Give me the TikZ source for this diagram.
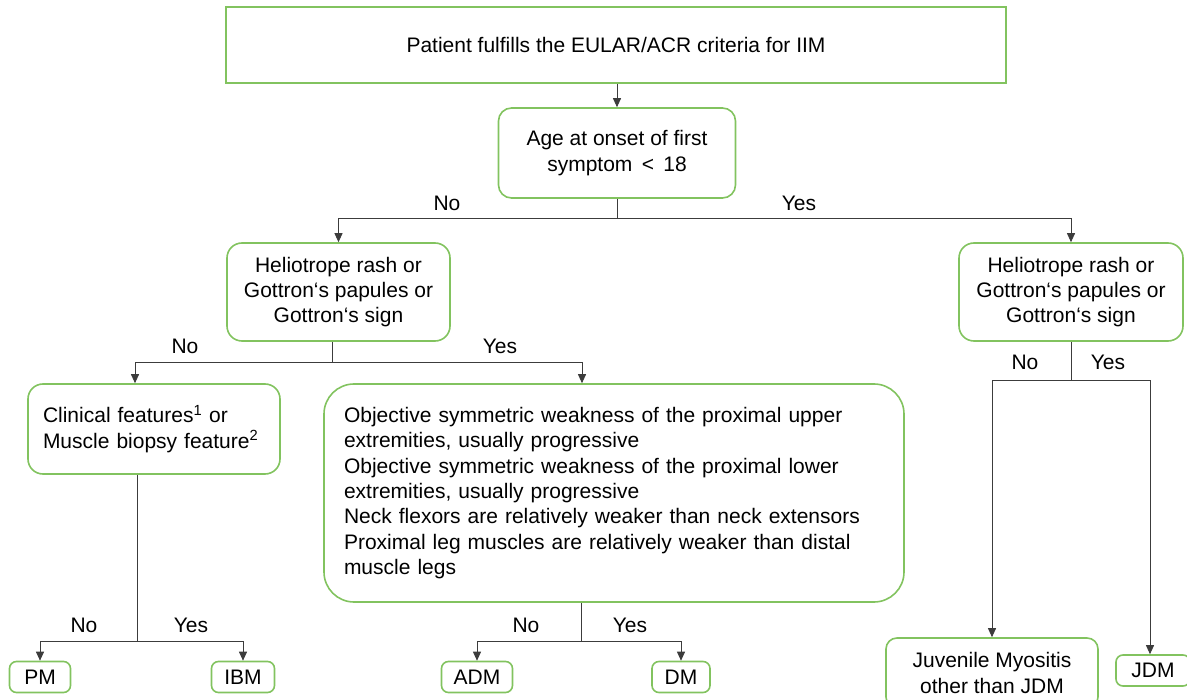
\documentclass[tikz,border=0pt]{standalone}
\usepackage{fontspec}
\setmainfont{Liberation Sans}
\usetikzlibrary{arrows.meta}
\definecolor{boxgreen}{RGB}{130,195,95}
\definecolor{linegray}{RGB}{60,60,60}
\tikzset{
  every node/.style={font=\fontsize{21}{25.3}\selectfont},
  gbox/.style={draw=boxgreen, line width=1.6pt, rounded corners=#1, align=center, inner sep=0pt},
  gbox/.default=14pt,
  conn/.style={draw=linegray, line width=0.9pt},
  arr/.style={conn, -{Triangle[length=9pt,width=8pt]}},
  lbl/.style={inner sep=0pt}
}
\begin{document}
\begin{tikzpicture}[x=1pt,y=-1pt]
\useasboundingbox (0,0) rectangle (1187,700);
% nodes
\node[gbox=0pt, minimum width=780pt, minimum height=76pt] (top) at (616,45) {Patient fulfills the EULAR/ACR criteria for IIM};
\node[gbox=13pt, minimum width=237pt, minimum height=90pt] (age) at (617,153) {Age at onset of first\\symptom \,<\, 18};
\node[gbox=15pt, minimum width=223pt, minimum height=98pt] (helioL) at (338.5,292) {Heliotrope rash or\\Gottron‘s papules or\\Gottron‘s sign};
\node[gbox=15pt, minimum width=224pt, minimum height=98pt] (helioR) at (1071,292) {Heliotrope rash or\\Gottron‘s papules or\\Gottron‘s sign};
\node[gbox=15pt, minimum width=252pt, minimum height=90pt, text width=222pt, inner xsep=15pt, align=left] (clin) at (154,429) {Clinical features\textsuperscript{1} or\\Muscle biopsy feature\textsuperscript{2}};
\node[gbox=30pt, minimum width=580pt, minimum height=218pt, text width=540pt, inner xsep=20pt, align=left] (big) at (614,493) {Objective symmetric weakness of the proximal upper\\extremities, usually progressive\\Objective symmetric weakness of the proximal lower\\extremities, usually progressive\\Neck flexors are relatively weaker than neck extensors\\Proximal leg muscles are relatively weaker than distal\\muscle legs};
\node[gbox=7pt, minimum width=61pt, minimum height=31pt] (pm) at (40,677) {PM};
\node[gbox=7pt, minimum width=63pt, minimum height=31pt] (ibm) at (243,677) {IBM};
\node[gbox=7pt, minimum width=71pt, minimum height=31pt] (adm) at (477,677) {ADM};
\node[gbox=7pt, minimum width=58pt, minimum height=31pt] (dm) at (681,677) {DM};
\node[gbox=11pt, minimum width=212pt, minimum height=70pt] (juv) at (992,673) {Juvenile Myositis\\other than JDM};
\node[gbox=7pt, minimum width=74pt, minimum height=31pt] (jdm) at (1153,670.5) {JDM};
% junctions
\coordinate (j1) at (617,218);
\coordinate (j2) at (332,362);
\coordinate (j3) at (137,641);
\coordinate (j4) at (581,641);
\coordinate (j5) at (1071,380);
% connectors
\draw[arr] (top.south -| age.north) -- (age.north);
\draw[conn] (age.south) -- (j1);
\draw[arr] (j1) -| (helioL.north);
\draw[arr] (j1) -| (helioR.north);
\draw[conn] (helioL.south -| j2) -- (j2);
\draw[arr] (j2) -| ([xshift=-19pt]clin.north);
\draw[arr] (j2) -| ([xshift=-32pt]big.north);
\draw[conn] (clin.south -| j3) -- (j3);
\draw[arr] (j3) -| (pm.north);
\draw[arr] (j3) -| (ibm.north);
\draw[conn] (big.south -| j4) -- (j4);
\draw[arr] (j4) -| (adm.north);
\draw[arr] (j4) -| (dm.north);
\draw[conn] (helioR.south) -- (j5);
\draw[arr] (j5) -| (juv.north);
\draw[arr] (j5) -| ([xshift=-3pt]jdm.north);
% labels
\node[lbl] (l1) at (447,203) {No};
\node[lbl] (l2) at (799,203) {Yes};
\node[lbl] (l3) at (185,346) {No};
\node[lbl] (l4) at (500,346) {Yes};
\node[lbl] (l5) at (84,625) {No};
\node[lbl] (l6) at (191,625) {Yes};
\node[lbl] (l7) at (526,625) {No};
\node[lbl] (l8) at (630,625) {Yes};
\node[lbl] (l9) at (1025,362) {No};
\node[lbl] (l10) at (1108,362) {Yes};
\end{tikzpicture}
\end{document}
